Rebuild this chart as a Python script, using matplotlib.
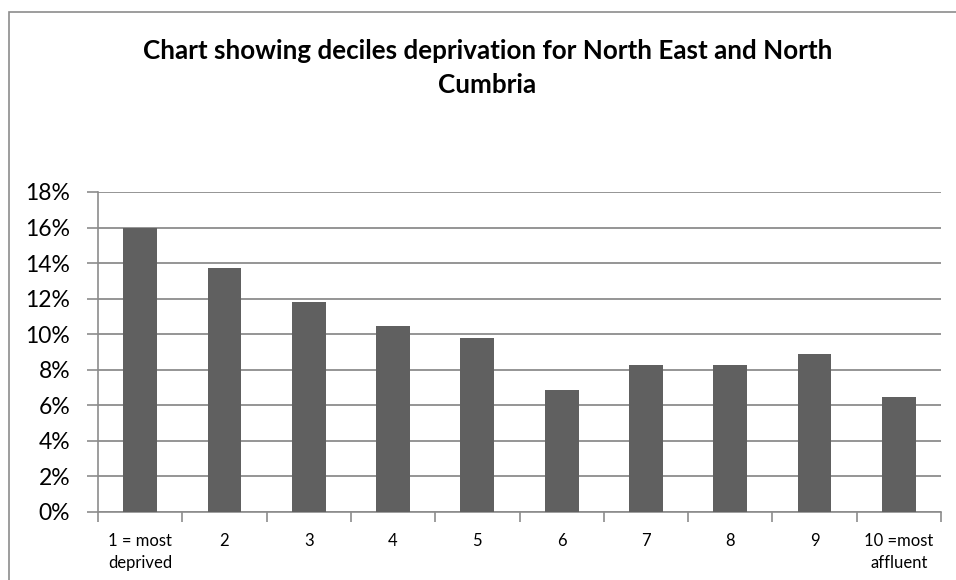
import matplotlib
matplotlib.use("Agg")
import matplotlib.pyplot as plt
from matplotlib.patches import Rectangle
from matplotlib.ticker import FixedLocator, PercentFormatter

deciles = ["1 = most\ndeprived", "2", "3", "4", "5", "6", "7", "8", "9", "10 =most\naffluent"]
shares = [16.0, 13.7, 11.8, 10.45, 9.8, 6.85, 8.25, 8.25, 8.9, 6.45]
title = "Chart showing deciles deprivation for North East and North\nCumbria"

plt.rcParams['font.family'] = ['Lato', 'DejaVu Sans']

fig = plt.figure(figsize=(9.56, 5.8), dpi=100)
# chart border (only left and top edges visible in the crop)
fig.patches.append(Rectangle((9 / 956, -0.1), 1.2, 1.1 - 12 / 580, transform=fig.transFigure,
                             fill=False, edgecolor="#8c8c8c", linewidth=1.2))

ax = fig.add_axes([98 / 956, 1 - 512 / 580, 843 / 956, 320 / 580])
x = list(range(len(deciles)))
ax.bar(x, shares, width=0.4, color="#606060", zorder=3)

ax.set_xlim(-0.5, len(deciles) - 0.5)
ax.set_ylim(0, 18)
ax.set_yticks(range(0, 19, 2))
ax.yaxis.set_major_formatter(PercentFormatter(decimals=0))
ax.tick_params(axis="y", labelsize=16.5, length=8, color="#8c8c8c", width=1.2, pad=12)
ax.grid(axis="y", color="#8c8c8c", linewidth=1.3, zorder=0)

ax.set_xticks(x)
ax.set_xticklabels(deciles, fontsize=12, linespacing=1.5)
ax.tick_params(axis="x", length=0, pad=15)
ax.xaxis.set_minor_locator(FixedLocator([i - 0.5 for i in range(len(deciles) + 1)]))
ax.tick_params(axis="x", which="minor", length=7, color="#8c8c8c", width=1.2)

for side in ["top", "right"]:
    ax.spines[side].set_visible(False)
for side in ["left", "bottom"]:
    ax.spines[side].set_color("#8c8c8c")
    ax.spines[side].set_linewidth(1.2)

fig.text(0.51, 1 - 39 / 580, title, ha="center", va="top", fontsize=18.7, fontweight="bold",
         linespacing=1.5)

fig.savefig("out.png", dpi=100, facecolor="white")
